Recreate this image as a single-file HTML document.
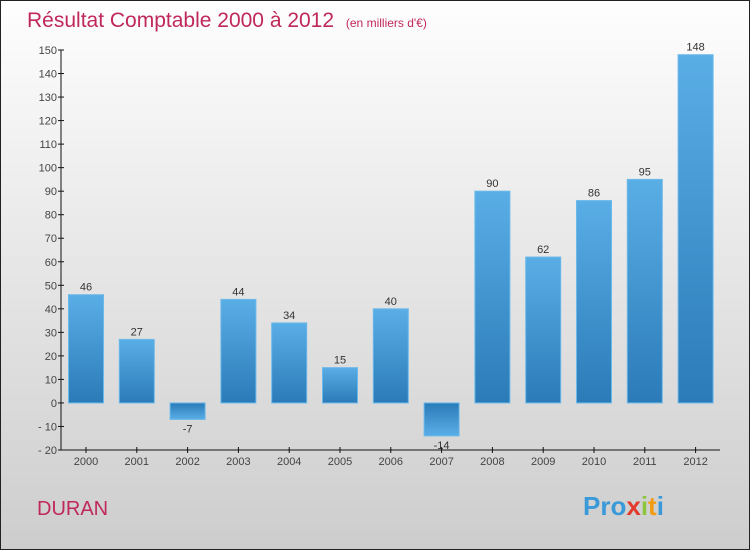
<!DOCTYPE html>
<html><head><meta charset="utf-8"><style>
html,body{margin:0;padding:0}
body{width:750px;height:550px;overflow:hidden;font-family:"Liberation Sans","DejaVu Sans",sans-serif}
</style></head><body>
<svg width="750" height="550" xmlns="http://www.w3.org/2000/svg">
<defs>
<linearGradient id="bg" x1="0" y1="0" x2="0" y2="1"><stop offset="0" stop-color="#fefefe"/><stop offset="1" stop-color="#cdcdcd"/></linearGradient>
<linearGradient id="barp" x1="0" y1="0" x2="0" y2="1"><stop offset="0" stop-color="#5aaee6"/><stop offset="1" stop-color="#2a7bb8"/></linearGradient>
<linearGradient id="barn" x1="0" y1="0" x2="0" y2="1"><stop offset="0" stop-color="#2a7bb8"/><stop offset="1" stop-color="#5aaee6"/></linearGradient>
</defs>
<rect x="0.5" y="0.5" width="749" height="549" fill="url(#bg)" stroke="#222"/>
<text x="27" y="27" font-size="21" fill="#c0285a" font-weight="300">Résultat Comptable 2000 à 2012 <tspan font-size="12" dx="6">(en milliers d'€)</tspan></text>
<g id="plot"></g>
<text x="37" y="515" font-size="20" fill="#c0285a">DURAN</text>
<text x="583" y="515" font-size="26" font-weight="bold" fill="#3a9ad9"><tspan fill="#3a9ad9">Pro</tspan><tspan fill="#e23b2e">x</tspan><tspan fill="#8cc63f">i</tspan><tspan fill="#f39c12">t</tspan><tspan fill="#3a9ad9">i</tspan></text>
</svg>
<script>
const years=["2000","2001","2002","2003","2004","2005","2006","2007","2008","2009","2010","2011","2012"];
const values=[46,27,-7,44,34,15,40,-14,90,62,86,95,148];
const yTicks=[150,140,130,120,110,100,90,80,70,60,50,40,30,20,10,0,-10,-20];
const NS="http://www.w3.org/2000/svg";
const plotG=document.getElementById('plot');
const yMin=-20,yMax=150,plotTop=50,plotBot=450,axX=61,x0=86,step=50.8,bw=35;
const yS=v=>plotBot-(v-yMin)/(yMax-yMin)*(plotBot-plotTop);
const xS=i=>x0+i*step;
function mk(t,a){const e=document.createElementNS(NS,t);for(const k in a)e.setAttribute(k,a[k]);plotG.appendChild(e);return e;}
const ax=mk('line',{x1:axX,y1:plotTop,x2:axX,y2:plotBot,stroke:'#111'});


const bx=mk('line',{x1:axX,y1:plotBot,x2:720,y2:plotBot,stroke:'#111'});


yTicks.forEach(t=>{
 mk('line',{x1:axX-3,y1:yS(t),x2:axX+3,y2:yS(t),stroke:'#111'});
 const tx=mk('text',{x:axX-4,y:yS(t)+4,'font-size':11,fill:'#444','text-anchor':'end'});
 tx.textContent=String(t).replace('-','- ');
 
 
});
years.forEach((yr,i)=>{
 const v=values[i],cx=xS(i);
 const y1=yS(Math.max(v,0)),y2=yS(Math.min(v,0));
 const r=mk('rect',{x:cx-bw/2,y:y1,width:bw,height:y2-y1,fill:v>=0?'url(#barp)':'url(#barn)',stroke:'#6bb8ea','stroke-width':1});
 
 
 const lb=mk('text',{x:cx,y:v>=0?y1-4:y2+13,'font-size':11,fill:'#333','text-anchor':'middle'});
 lb.textContent=v;
 
 
 mk('line',{x1:cx,y1:plotBot-3,x2:cx,y2:plotBot+3,stroke:'#111'});
 const xl=mk('text',{x:cx,y:plotBot+15,'font-size':11,fill:'#444','text-anchor':'middle'});
 xl.textContent=yr;
 
 
});
</script>
</body></html>
